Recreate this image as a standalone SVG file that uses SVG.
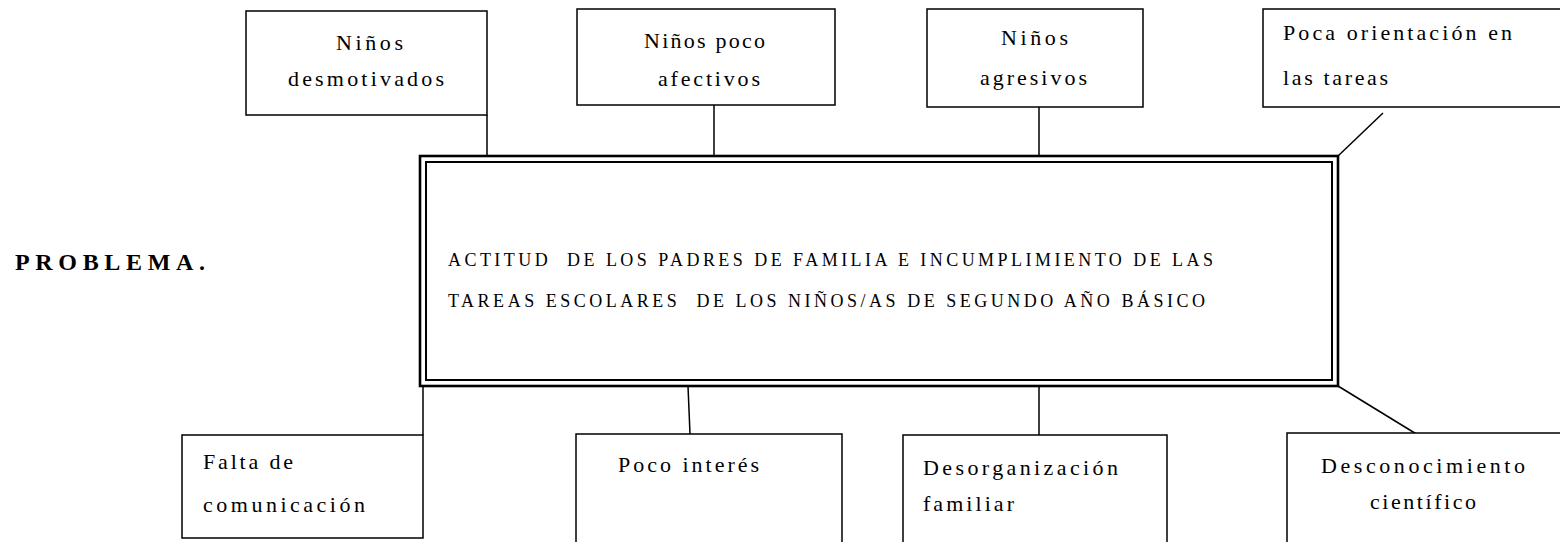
<svg xmlns="http://www.w3.org/2000/svg" width="1560" height="542" viewBox="0 0 1560 542" font-family="'Liberation Serif', 'Times New Roman', serif">
<style>
.box{fill:#fff;stroke:#000;stroke-width:1.5}
.outer{fill:none;stroke:#000;stroke-width:2.6}
.inner{fill:none;stroke:#000;stroke-width:2}
.conn line{stroke:#000;stroke-width:1.5}
text{font-family:'Liberation Serif','Times New Roman',serif;fill:#000;white-space:pre}
.t{font-size:22px}
.m{font-size:18px}
.p{font-size:24px;font-weight:bold}
</style>
<rect width="1560" height="542" fill="#fff"/>
<g id="connectors" class="conn">
<line x1="487" y1="115" x2="487" y2="157"/>
<line x1="714" y1="105" x2="714" y2="157"/>
<line x1="1039" y1="107" x2="1039" y2="157"/>
<line x1="1383" y1="113" x2="1338" y2="156"/>
<line x1="423" y1="386" x2="423" y2="435"/>
<line x1="688" y1="386" x2="690" y2="434"/>
<line x1="1039" y1="386" x2="1039" y2="435"/>
<line x1="1338" y1="386" x2="1418" y2="435"/>
</g>
<g id="problema-label">
<text class="p" x="15" y="270" textLength="190" lengthAdjust="spacing">PROBLEMA.</text>
</g>
<g id="main">
<rect class="outer" x="420" y="156" width="918" height="230"/>
<rect class="inner" x="426" y="162" width="906" height="218"/>
<text class="m" x="448" y="266" textLength="765" lengthAdjust="spacing">ACTITUD  DE LOS PADRES DE FAMILIA E INCUMPLIMIENTO DE LAS</text>
<text class="m" x="448" y="307" textLength="757" lengthAdjust="spacing">TAREAS ESCOLARES  DE LOS NIÑOS/AS DE SEGUNDO AÑO BÁSICO</text>
</g>
<g id="n1">
<rect class="box" x="246" y="11" width="241" height="104"/>
<text class="t" x="336" y="50" textLength="67" lengthAdjust="spacing">Niños</text>
<text class="t" x="288" y="86" textLength="156" lengthAdjust="spacing">desmotivados</text>
</g>
<g id="n2">
<rect class="box" x="577" y="9" width="258" height="96"/>
<text class="t" x="644" y="48" textLength="121" lengthAdjust="spacing">Niños poco</text>
<text class="t" x="658" y="86" textLength="102" lengthAdjust="spacing">afectivos</text>
</g>
<g id="n3">
<rect class="box" x="927" y="9" width="216" height="98"/>
<text class="t" x="1001" y="45" textLength="67" lengthAdjust="spacing">Niños</text>
<text class="t" x="980" y="85" textLength="107" lengthAdjust="spacing">agresivos</text>
</g>
<g id="n4">
<rect class="box" x="1263" y="9" width="310" height="98"/>
<text class="t" x="1283" y="40" textLength="229" lengthAdjust="spacing">Poca orientación en</text>
<text class="t" x="1283" y="85" textLength="105" lengthAdjust="spacing">las tareas</text>
</g>
<g id="n5">
<rect class="box" x="182" y="435" width="241" height="103"/>
<text class="t" x="203" y="469" textLength="90" lengthAdjust="spacing">Falta de</text>
<text class="t" x="203" y="512" textLength="162" lengthAdjust="spacing">comunicación</text>
</g>
<g id="n6">
<rect class="box" x="576" y="434" width="266" height="120"/>
<text class="t" x="618" y="472" textLength="141" lengthAdjust="spacing">Poco interés</text>
</g>
<g id="n7">
<rect class="box" x="903" y="435" width="264" height="120"/>
<text class="t" x="923" y="475" textLength="195" lengthAdjust="spacing">Desorganización</text>
<text class="t" x="923" y="511" textLength="91" lengthAdjust="spacing">familiar</text>
</g>
<g id="n8">
<rect class="box" x="1287" y="433" width="290" height="120"/>
<text class="t" x="1321" y="473" textLength="204" lengthAdjust="spacing">Desconocimiento</text>
<text class="t" x="1370" y="509" textLength="106" lengthAdjust="spacing">científico</text>
</g>
</svg>
